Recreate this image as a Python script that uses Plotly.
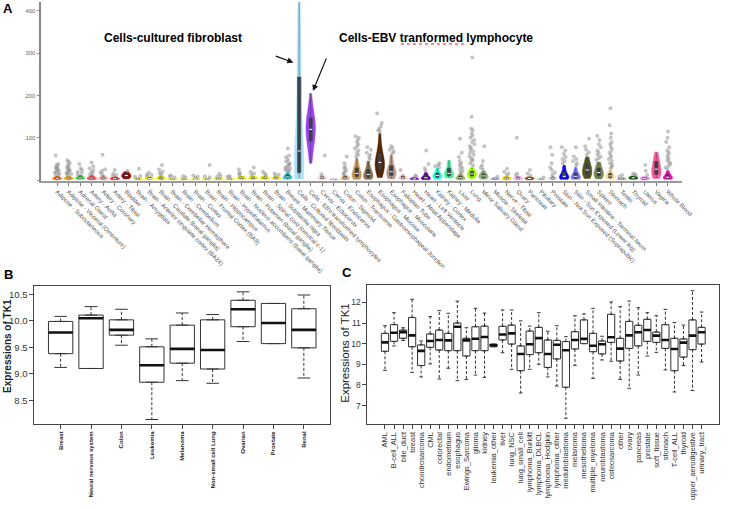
import numpy as np
import plotly.graph_objects as go

# ---------------- Panel A data (GTEx TK1, TPM) ----------------
tissues = [
    "Adipose - Subcutaneous", "Adipose - Visceral (Omentum)", "Adrenal Gland",
    "Artery - Aorta", "Artery - Coronary", "Artery - Tibial", "Bladder",
    "Brain - Amygdala", "Brain - Anterior cingulate cortex (BA24)",
    "Brain - Caudate (basal ganglia)", "Brain - Cerebellar Hemisphere",
    "Brain - Cerebellum", "Brain - Cortex", "Brain - Frontal Cortex (BA9)",
    "Brain - Hippocampus", "Brain - Hypothalamus",
    "Brain - Nucleus accumbens (basal ganglia)", "Brain - Putamen (basal ganglia)",
    "Brain - Spinal cord (cervical c-1)", "Brain - Substantia nigra",
    "Breast - Mammary Tissue", "Cells - Cultured fibroblasts",
    "Cells - EBV-transformed lymphocytes", "Cervix - Ectocervix",
    "Cervix - Endocervix", "Colon - Sigmoid", "Colon - Transverse",
    "Esophagus - Gastroesophageal Junction", "Esophagus - Mucosa",
    "Esophagus - Muscularis", "Fallopian Tube", "Heart - Atrial Appendage",
    "Heart - Left Ventricle", "Kidney - Cortex", "Kidney - Medulla", "Liver",
    "Lung", "Minor Salivary Gland", "Muscle - Skeletal", "Nerve - Tibial",
    "Ovary", "Pancreas", "Pituitary", "Prostate",
    "Skin - Not Sun Exposed (Suprapubic)", "Skin - Sun Exposed (Lower leg)",
    "Small Intestine - Terminal Ileum", "Spleen", "Stomach", "Testis",
    "Thyroid", "Uterus", "Vagina", "Whole Blood",
]

tissue_colors = [
    "#FF6600", "#FFAA00", "#33DD33", "#FF5555", "#FFAA99", "#FF2222", "#AA0000",
    "#EEEE00", "#EEEE00", "#EEEE00", "#EEEE00", "#EEEE00", "#EEEE00", "#EEEE00",
    "#EEEE00", "#EEEE00", "#EEEE00", "#EEEE00", "#EEEE00", "#EEEE00",
    "#33CCCC", "#AEE2F7", "#A040F5", "#FFCCCC", "#CCAADD", "#EEBB77", "#CC9955",
    "#8B7355", "#552200", "#BB9988", "#FFCCCC", "#9900FF", "#660099",
    "#22FFDD", "#44EE99", "#AABB66", "#99FF00", "#99BB88", "#AAAAFF", "#FFD700",
    "#FFAAFF", "#995522", "#AAFF99", "#DDDDDD", "#0000FF", "#7777FF",
    "#555522", "#778855", "#FFDD99", "#AAAAAA", "#006600", "#FF66FF",
    "#FF5599", "#FF00BB",
]

core_values = [
    [1, 2, 3, 3, 4, 4, 5, 5, 6, 7, 8, 10],
    [1, 2, 3, 3, 4, 5, 5, 6, 7, 8, 10],
    [2, 3, 4, 5, 5, 6, 7, 8, 10, 12],
    [1, 2, 3, 4, 5, 6, 7, 9, 12],
    [1, 2, 3, 4, 5, 6, 7, 9, 12],
    [1, 2, 3, 3, 4, 5, 6, 8],
    [3, 5, 7, 9, 11, 12, 14, 17, 20],
    [1, 2, 2, 3, 3, 4, 5, 6],
    [1, 2, 3, 3, 4, 5, 6, 7, 8],
    [1, 2, 3, 4, 5, 6, 7, 9, 11],
    [1, 2, 2, 3, 3, 4, 5],
    [1, 2, 2, 3, 3, 4, 5],
    [1, 1, 2, 2, 3, 3, 4],
    [1, 2, 2, 3, 3, 4, 5],
    [1, 2, 3, 3, 4, 5, 6],
    [1, 2, 2, 3, 3, 4, 5],
    [2, 3, 4, 5, 6, 7, 8, 10],
    [2, 3, 4, 5, 6, 7, 8, 10],
    [2, 3, 4, 5, 6, 7, 8, 10],
    [2, 3, 4, 5, 6, 7, 9],
    [2, 4, 5, 6, 7, 8, 10, 12, 15, 18],
    [3, 5, 7, 9, 11, 13, 15, 18, 24, 30, 38, 46, 55, 63, 69,
     85, 105, 130, 160, 190, 215, 240, 255, 275, 300, 330, 360, 390, 421],
    [40, 55, 68, 80, 88, 94, 100, 106, 112, 116, 120, 124, 130, 136, 142,
     146, 150, 158, 168, 182, 205],
    [2, 3, 4, 5, 6, 7, 9, 12],
    [1, 1, 2, 2, 3],
    [1, 2, 3, 4, 5, 6, 8, 10, 12],
    [2, 4, 6, 8, 10, 12, 14, 16, 19, 22, 26, 30, 36, 44, 52],
    [2, 4, 6, 8, 10, 12, 15, 18, 22, 28, 35, 45],
    [6, 12, 18, 22, 26, 30, 34, 38, 40, 44, 48, 52, 56, 62, 70, 80, 95, 110],
    [3, 6, 9, 12, 15, 18, 20, 22, 26, 32, 40, 50, 60],
    [2, 3, 4, 5, 6, 8, 10, 14],
    [1, 2, 3, 3, 4, 5, 7],
    [1, 2, 3, 4, 5, 6, 8, 10, 14, 18],
    [3, 5, 7, 9, 10, 12, 14, 17, 22, 28],
    [5, 8, 10, 12, 14, 16, 18, 22, 30, 40, 47],
    [1, 2, 3, 4, 5, 6, 8, 10, 12, 15],
    [4, 7, 10, 12, 14, 16, 18, 21, 25, 30],
    [2, 4, 6, 8, 10, 12, 14, 18, 22],
    [1, 2, 2, 3, 3, 4, 5, 6],
    [1, 2, 3, 4, 5, 6, 7, 9],
    [1, 2, 3, 4, 5, 6, 8, 10],
    [1, 2, 3, 4, 5, 6, 8],
    [1, 2, 2, 3, 3, 4, 5],
    [1, 2, 3, 4, 5, 6, 8, 10],
    [2, 3, 4, 5, 6, 7, 8, 10, 12, 15, 19, 24, 30, 35],
    [2, 3, 4, 5, 6, 8, 10, 12, 15, 19, 24, 30],
    [4, 8, 12, 16, 20, 24, 28, 32, 38, 45, 55],
    [3, 6, 9, 12, 15, 18, 21, 25, 30, 36, 43],
    [2, 4, 6, 8, 10, 12, 15, 18, 24],
    [1, 2, 2, 3, 3, 4, 5, 6],
    [2, 3, 4, 5, 6, 7, 8, 10],
    [1, 2, 3, 4, 5, 6, 8],
    [4, 8, 12, 16, 20, 24, 28, 34, 40, 48, 56, 66],
    [2, 3, 4, 5, 6, 8, 10, 13, 17, 22],
]

outlier_values = [
    [12, 14, 16, 18, 20, 22, 24, 26, 28, 30, 33, 36, 38, 58],
    [12, 14, 15, 17, 19, 21, 23, 25, 27, 30, 33, 36, 40, 44, 47],
    [14, 17, 20, 24, 28, 38],
    [14, 17, 20, 24, 28, 33, 42],
    [14, 18, 22, 26, 60],
    [10, 12, 15, 24],
    [22],
    [8, 10, 27],
    [10, 12, 14, 18],
    [14, 17, 20, 25, 36],
    [7, 9, 11],
    [7, 9],
    [6, 8, 11],
    [7, 9, 36],
    [8, 10, 15],
    [6, 8, 10],
    [12, 15, 18, 26],
    [13, 16, 20, 30],
    [12, 15, 20],
    [11, 13, 16],
    [20, 22, 24, 26, 28, 30, 32, 35, 38, 40, 44, 48, 54, 58, 75],
    [],
    [],
    [14, 58],
    [],
    [14, 17, 20, 24, 28, 32, 40, 56],
    [56, 60, 65, 70, 75, 80, 85, 90, 95, 100, 104],
    [50, 55, 60, 65, 72, 78],
    [115, 118, 122, 128, 135, 158],
    [64, 68, 72, 76, 80],
    [24],
    [9, 11],
    [22, 28, 38, 70],
    [30, 33, 36, 40],
    [],
    [17, 20, 24, 28, 32, 36, 40, 45, 55, 65, 98],
    [35, 40, 45, 48, 52, 56, 60, 64, 68, 72, 76, 80, 85, 90, 95, 100, 105,
     110, 118, 122, 150, 290],
    [26, 30, 35, 45, 80],
    [8],
    [12, 16, 20, 27],
    [12, 16, 100],
    [11, 16, 24],
    [6],
    [14, 18, 24, 30, 40, 60, 78],
    [40, 45, 50, 55, 62, 70, 78],
    [35, 40, 45, 50, 56, 78],
    [60, 66, 72, 80, 98],
    [48, 52, 56, 60, 65, 70, 78, 85, 95, 105],
    [28, 32, 36, 40, 45, 50, 55, 60, 66, 72, 78, 85, 90, 100, 110, 130, 170],
    [8, 12],
    [12, 14, 16],
    [12, 22, 36],
    [],
    [26, 30, 34, 38, 42, 46, 50, 55, 60, 65, 70, 78, 90, 100, 115],
]

# ---------------- Panel B data (NCI-60 cell lines) ----------------
b_names = ["Breast", "Neural nervous system", "Colon", "Leukemia", "Melanoma",
           "Non-small cell Lung", "Ovarian", "Prostate", "Renal"]
b_lower = [9.12, 9.10, 9.54, 8.135, 8.87, 8.82, 9.61, 9.57, 8.92]
b_q1 = [9.38, 9.10, 9.73, 8.84, 9.20, 9.09, 9.89, 9.57, 9.49]
b_median = [9.78, 10.05, 9.83, 9.16, 9.47, 9.45, 10.22, 9.96, 9.83]
b_q3 = [9.99, 10.11, 10.02, 9.51, 9.92, 10.02, 10.39, 10.33, 10.23]
b_upper = [10.085, 10.27, 10.22, 9.66, 10.15, 10.12, 10.55, 10.33, 10.49]

# ---------------- Panel C data (CCLE cancer cell lines) ----------------
c_names = ["AML", "B-cell_ALL", "bile_duct", "breast", "chondrosarcoma", "CML",
           "colorectal", "endometrium", "esophagus", "Ewings_Sarcoma", "glioma",
           "kidney", "leukemia_other", "liver", "lung_NSC", "lung_small_cell",
           "lymphoma_Burkitt", "lymphoma_DLBCL", "lymphoma_Hodgkin",
           "lymphoma_other", "medulloblastoma", "melanoma", "mesothelioma",
           "multiple_myeloma", "neuroblastoma", "osteosarcoma", "other", "ovary",
           "pancreas", "prostate", "soft_tissue", "stomach", "T-cell_ALL",
           "thyroid", "upper_aerodigestive", "urinary_tract"]
c_lower = [8.71, 9.89, 10.15, 8.61, 8.39, 9.02, 8.29, 8.81, 8.21, 8.26, 8.48,
           8.37, 9.85, 9.56, 8.76, 7.61, 8.76, 9.00, 8.39, 7.95, 6.39, 8.95,
           10.00, 8.32, 9.21, 9.15, 8.27, 7.84, 8.48, 9.40, 9.58, 8.73, 7.66,
           8.94, 7.73, 9.11]
c_q1 = [9.63, 10.11, 10.26, 9.85, 8.94, 9.82, 9.69, 9.66, 9.66, 9.40, 9.66,
        9.66, 9.85, 10.18, 9.98, 8.69, 9.47, 9.56, 8.85, 9.26, 7.89, 9.74,
        10.00, 9.61, 9.50, 10.06, 9.16, 9.77, 9.89, 10.11, 10.06, 9.77, 8.69,
        9.35, 9.71, 9.98]
c_median = [10.06, 10.53, 10.56, 10.40, 9.65, 10.13, 10.18, 10.16, 10.82, 10.16,
            10.24, 10.32, 9.92, 10.44, 10.50, 9.50, 9.97, 10.27, 9.50, 9.95,
            9.68, 10.18, 10.23, 9.90, 9.97, 10.31, 9.76, 10.40, 10.55, 10.66,
            10.39, 10.18, 9.74, 10.05, 10.39, 10.55]
c_q3 = [10.50, 10.92, 10.66, 11.27, 9.94, 10.47, 10.66, 10.50, 11.00, 10.26,
        10.82, 10.85, 9.98, 10.84, 10.90, 9.89, 10.61, 10.79, 10.18, 10.16,
        10.10, 10.58, 11.15, 10.50, 10.13, 11.42, 10.26, 11.08, 10.89, 11.18,
        10.56, 10.92, 10.26, 10.23, 11.15, 10.79]
c_upper = [10.87, 11.50, 10.77, 12.15, 10.13, 11.31, 11.60, 11.47, 12.06, 10.77,
           11.71, 11.48, 9.98, 11.63, 11.63, 11.10, 10.85, 11.50, 10.60, 10.87,
           10.34, 11.35, 11.44, 11.71, 10.36, 12.02, 11.79, 12.06, 11.74, 11.50,
           11.35, 11.66, 11.02, 10.90, 12.56, 11.53]

FONT = "Arial, Liberation Sans, sans-serif"
W, H = 738, 509

fig = go.Figure()

# ---------------- Panel A ----------------
for name, col, vals in zip(tissues, tissue_colors, core_values):
    fig.add_trace(go.Violin(
        x=[name] * len(vals), y=vals, xaxis="x", yaxis="y",
        fillcolor=col, line=dict(color=col, width=0.5), opacity=1,
        width=0.82, scalemode="width", spanmode="hard", points=False,
        box=dict(visible=True, width=0.35, fillcolor="#3b4148",
                 line=dict(color="#3b4148", width=0.5)),
        meanline=dict(visible=False), hoverinfo="skip", showlegend=False))

med_x = tissues
med_y = [float(np.median(v)) for v in core_values]
fig.add_trace(go.Scatter(
    x=med_x, y=med_y, mode="markers", xaxis="x", yaxis="y",
    marker=dict(symbol="line-ew", size=2.2, line=dict(color="white", width=1)),
    hoverinfo="skip", showlegend=False))

ox, oy = [], []
for name, vals in zip(tissues, outlier_values):
    ox += [name] * len(vals)
    oy += vals
fig.add_trace(go.Box(
    x=ox, y=oy, xaxis="x", yaxis="y", boxpoints="all", jitter=0.6, pointpos=0,
    width=0.8, fillcolor="rgba(0,0,0,0)", line=dict(width=0, color="rgba(0,0,0,0)"),
    marker=dict(color="rgba(150,150,150,0.55)", size=4),
    hoverinfo="skip", showlegend=False))


# ---------------- Box panels B and C ----------------
def box_panel(names, low, q1, med, q3, up, xa, ya, med_size, staple_size):
    fig.add_trace(go.Box(
        x=names, q1=q1, median=med, q3=q3, lowerfence=q1, upperfence=q3,
        xaxis=xa, yaxis=ya, width=0.8, fillcolor="white",
        line=dict(color="#333333", width=1), hoverinfo="skip", showlegend=False))
    wx, wy, sx, sy = [], [], [], []
    for n, lo, a, b, hi in zip(names, low, q1, q3, up):
        if hi > b:
            wx += [n, n, None]
            wy += [b, hi, None]
            sx.append(n)
            sy.append(hi)
        if lo < a:
            wx += [n, n, None]
            wy += [a, lo, None]
            sx.append(n)
            sy.append(lo)
    fig.add_trace(go.Scatter(
        x=wx, y=wy, mode="lines", xaxis=xa, yaxis=ya,
        line=dict(color="#333333", width=1, dash="3px,2px"),
        hoverinfo="skip", showlegend=False))
    fig.add_trace(go.Scatter(
        x=sx, y=sy, mode="markers", xaxis=xa, yaxis=ya,
        marker=dict(symbol="line-ew", size=staple_size,
                    line=dict(color="#333333", width=1)),
        hoverinfo="skip", showlegend=False))
    fig.add_trace(go.Scatter(
        x=names, y=med, mode="markers", xaxis=xa, yaxis=ya,
        marker=dict(symbol="line-ew", size=med_size,
                    line=dict(color="#111111", width=2.6)),
        hoverinfo="skip", showlegend=False))


box_panel(b_names, b_lower, b_q1, b_median, b_q3, b_upper, "x2", "y2", 17.5, 9)
box_panel(c_names, c_lower, c_q1, c_median, c_q3, c_upper, "x3", "y3", 5.2, 2.6)


def px_x(p):
    return p / W


def px_y(p):
    return 1 - p / H


frame = dict(showline=True, mirror=True, linecolor="#444444", linewidth=1,
             showgrid=False, zeroline=False, ticks="outside", ticklen=4,
             tickcolor="#444444")

fig.update_layout(
    width=W, height=H, margin=dict(l=0, r=0, t=0, b=0),
    paper_bgcolor="white", plot_bgcolor="white",
    font=dict(family=FONT, color="#333333"),
    showlegend=False, violinmode="overlay", boxmode="overlay",
    xaxis=dict(domain=[px_x(42), px_x(692)], anchor="y", type="category",
               range=[-1.37, 54.2], tickmode="array", tickvals=tissues,
               ticktext=tissues, tickangle=45,
               tickfont=dict(size=6, color="#555555"),
               showline=True, linecolor="#9a9a9a", linewidth=2,
               ticks="outside", ticklen=3, tickcolor="#777777",
               showgrid=False, zeroline=False),
    yaxis=dict(domain=[px_y(181), px_y(2)], anchor="x", range=[-2, 421],
               tickmode="array", tickvals=[0, 100, 200, 300, 400],
               ticktext=["", "100", "200", "300", "400"],
               tickfont=dict(size=6, color="#666666"),
               showline=True, linecolor="#888888", linewidth=1.5,
               ticks="outside", ticklen=3, tickcolor="#888888",
               showgrid=False, zeroline=False),
    xaxis2=dict(domain=[px_x(35), px_x(335)], anchor="y2", type="category",
                range=[-0.86, 8.86], tickmode="array", tickvals=b_names,
                ticktext=b_names, tickangle=-90,
                tickfont=dict(size=6, color="#222222", weight="bold"), **frame),
    yaxis2=dict(domain=[px_y(424), px_y(286)], anchor="x2", range=[8.05, 10.66],
                tickmode="array", tickvals=[8.5, 9.0, 9.5, 10.0, 10.5],
                ticktext=["8.5", "9.0", "9.5", "10.0", "10.5"],
                tickfont=dict(size=9.5, color="#333333"), **frame),
    xaxis3=dict(domain=[px_x(373), px_x(730)], anchor="y3", type="category",
                range=[-1.94, 36.94], tickmode="array", tickvals=c_names,
                ticktext=c_names, tickangle=-90,
                tickfont=dict(size=7.5, color="#333333"), **frame),
    yaxis3=dict(domain=[px_y(424), px_y(285)], anchor="x3", range=[6.11, 12.84],
                tickmode="array", tickvals=[7, 8, 9, 10, 11, 12],
                ticktext=["7", "8", "9", "10", "11", "12"],
                tickfont=dict(size=8.5, color="#333333"), **frame),
)

ann = []
for txt, x, y in [("A", 8, 8), ("B", 9, 274), ("C", 352, 272)]:
    ann.append(dict(text="<b>%s</b>" % txt, x=px_x(x), y=px_y(y), xref="paper",
                    yref="paper", showarrow=False, xanchor="center",
                    yanchor="middle", font=dict(size=13, color="black")))
ann.append(dict(text="<b>Cells-cultured fibroblast</b>", x=px_x(176), y=px_y(38),
                xref="paper", yref="paper", showarrow=False,
                xanchor="center", yanchor="middle",
                font=dict(size=12, color="black")))
ann.append(dict(text="<b>Cells-EBV tranformed lymphocyte</b>", x=px_x(443),
                y=px_y(38), xref="paper", yref="paper", showarrow=False,
                xanchor="center", yanchor="middle",
                font=dict(size=12, color="black")))
ann.append(dict(text="<b>Expressions of TK1</b>", x=px_x(7), y=px_y(346),
                xref="paper", yref="paper", showarrow=False, textangle=-90,
                xanchor="center", yanchor="middle",
                font=dict(size=10, color="#222222")))
ann.append(dict(text="Expressions of TK1", x=px_x(350), y=px_y(353),
                xref="paper", yref="paper", showarrow=False, textangle=-90,
                xanchor="center", yanchor="middle",
                font=dict(size=11.5, color="#222222")))
# arrows pointing at the two cell-type violins
ann.append(dict(text="", x=20.5, y=278, xref="x", yref="y", showarrow=True,
                ax=-19, ay=-7, arrowhead=2, arrowsize=1, arrowwidth=1.2,
                arrowcolor="#111111"))
ann.append(dict(text="", x=22.2, y=211, xref="x", yref="y", showarrow=True,
                ax=14, ay=-34, arrowhead=2, arrowsize=1, arrowwidth=1.2,
                arrowcolor="#111111"))
fig.update_layout(annotations=ann)

# spell-check style underline under "tranformed"
fig.add_shape(type="line", xref="paper", yref="paper",
              x0=px_x(407), x1=px_x(472), y0=px_y(44), y1=px_y(44),
              line=dict(color="#dd2222", width=1, dash="dot"))

fig.write_html("out.html", config={"displayModeBar": False},
               post_script="document.body.style.margin='0px';"
                           "document.body.style.overflow='hidden';")
